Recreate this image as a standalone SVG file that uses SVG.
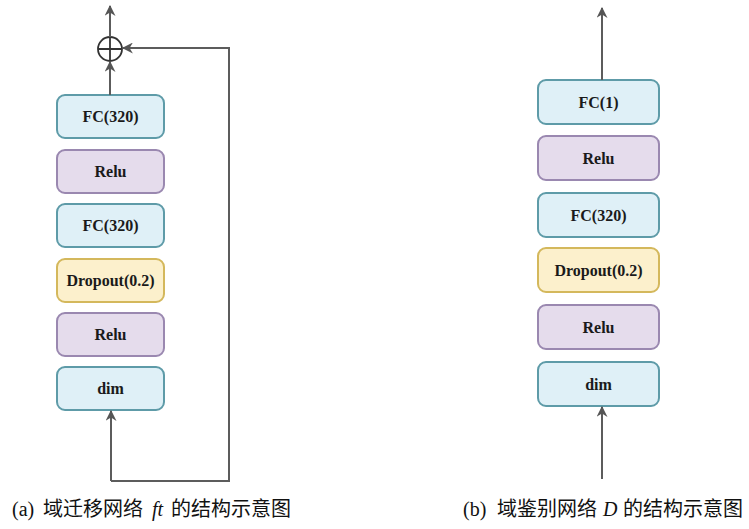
<svg xmlns="http://www.w3.org/2000/svg" width="749" height="529" viewBox="0 0 749 529">
<defs>
<marker id="ah" viewBox="0 0 10 10" refX="9" refY="5" markerWidth="5.5" markerHeight="5.5" orient="auto" markerUnits="strokeWidth">
<path d="M0,0 L10,5 L0,10 L3,5 z" fill="#555"/>
</marker>
<style>
.fc{fill:#dff0f7;stroke:#5e9ba8;stroke-width:2}
.re{fill:#e5dcec;stroke:#9a88b0;stroke-width:2}
.dp{fill:#fcf0cc;stroke:#d4b85c;stroke-width:2}
.lbl{font-family:"Liberation Serif",serif;font-weight:bold;font-size:16px;fill:#1a1a1a;text-anchor:middle}
.ln{fill:none;stroke:#5c5c5c;stroke-width:2}
.cap{font-family:"Liberation Serif","Noto Sans CJK SC",serif;font-size:20px;fill:#111}
</style>
</defs>
<rect width="749" height="529" fill="#fff"/>
<g id="left-fc2"><rect class="fc" x="57" y="95" width="107" height="43" rx="8"/><text class="lbl" x="110.5" y="122">FC(320)</text></g>
<g id="left-relu2"><rect class="re" x="57" y="150" width="107" height="43" rx="8"/><text class="lbl" x="110.5" y="177">Relu</text></g>
<g id="left-fc1"><rect class="fc" x="57" y="204" width="107" height="43" rx="8"/><text class="lbl" x="110.5" y="231">FC(320)</text></g>
<g id="left-dropout"><rect class="dp" x="57" y="259" width="107" height="43" rx="8"/><text class="lbl" x="110.5" y="286">Dropout(0.2)</text></g>
<g id="left-relu1"><rect class="re" x="57" y="313" width="107" height="43" rx="8"/><text class="lbl" x="110.5" y="340">Relu</text></g>
<g id="left-dim"><rect class="fc" x="57" y="367" width="107" height="43" rx="8"/><text class="lbl" x="110.5" y="394">dim</text></g>
<g id="left-sum"><circle cx="110" cy="49" r="12" fill="#fff" stroke="#333" stroke-width="1.8"/><path d="M98,49 H122 M110,37 V61" stroke="#333" stroke-width="1.8"/></g>
<g id="right-fc1"><rect class="fc" x="538" y="80" width="121" height="44" rx="8"/><text class="lbl" x="598.5" y="107.5">FC(1)</text></g>
<g id="right-relu2"><rect class="re" x="538" y="136" width="121" height="44" rx="8"/><text class="lbl" x="598.5" y="163.5">Relu</text></g>
<g id="right-fc320"><rect class="fc" x="538" y="193" width="121" height="44" rx="8"/><text class="lbl" x="598.5" y="220.5">FC(320)</text></g>
<g id="right-dropout"><rect class="dp" x="538" y="248" width="121" height="44" rx="8"/><text class="lbl" x="598.5" y="275.5">Dropout(0.2)</text></g>
<g id="right-relu1"><rect class="re" x="538" y="305" width="121" height="44" rx="8"/><text class="lbl" x="598.5" y="332.5">Relu</text></g>
<g id="right-dim"><rect class="fc" x="538" y="362" width="121" height="44" rx="8"/><text class="lbl" x="598.5" y="389.5">dim</text></g>
<g id="connectors">
<path class="ln" d="M111,481 V411" marker-end="url(#ah)"/>
<path class="ln" d="M111,481 H229 V48 H123" marker-end="url(#ah)"/>
<path class="ln" d="M110,95 V62" marker-end="url(#ah)"/>
<path class="ln" d="M110,37 V6" marker-end="url(#ah)"/>
<path class="ln" d="M602,479 V407" marker-end="url(#ah)"/>
<path class="ln" d="M602,80 V8" marker-end="url(#ah)"/>
</g>
<g id="captions">
<text class="cap" y="516"><tspan x="12">(a)</tspan><tspan x="43">域迁移网络</tspan><tspan x="152" font-style="italic">ft</tspan><tspan x="171">的结构示意图</tspan></text>
<text class="cap" y="516"><tspan x="463">(b)</tspan><tspan x="497">域鉴别网络</tspan><tspan x="603" font-style="italic">D</tspan><tspan x="623">的结构示意图</tspan></text>
</g>
</svg>
